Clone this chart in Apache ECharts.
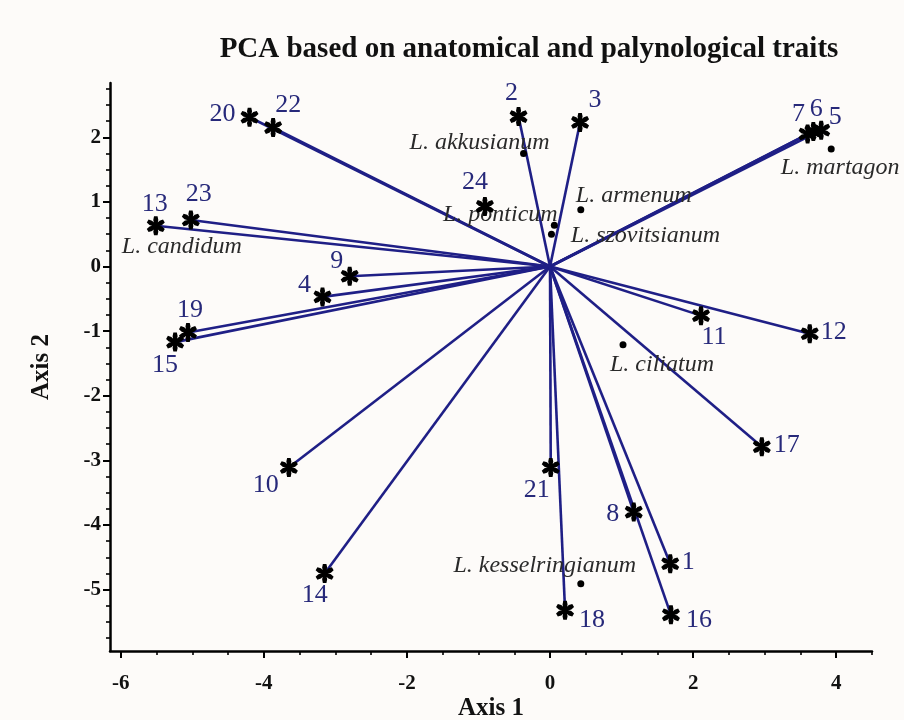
<!DOCTYPE html>
<html><head><meta charset="utf-8">
<script src="https://cdn.jsdelivr.net/npm/echarts@6/dist/echarts.min.js"></script>
<style>html,body{margin:0;padding:0;background:#fdfbf9}#c{width:904px;height:720px}</style>
</head><body><div id="c"></div>
<script>
// ---------- DATA ----------
const pointIds    = ['1','2','3','4','5','6','7','8','9','10','11','12','13','14','15','16','17','18','19','20','21','22','23','24'];
const axis1Scores = [1.68,-0.44,0.42,-3.18,3.79,3.68,3.60,1.17,-2.80,-3.65,2.11,3.63,-5.51,-3.15,-5.24,1.69,2.96,0.21,-5.06,-4.20,0.01,-3.87,-5.02,-0.91];
const axis2Scores = [-4.60,2.32,2.23,-0.47,2.11,2.09,2.05,-3.80,-0.15,-3.11,-0.76,-1.04,0.63,-4.75,-1.17,-5.39,-2.79,-5.32,-1.02,2.31,-3.11,2.15,0.72,0.93];
const vectorIds   = ['1','2','3','4','5','6','7','8','9','10','11','12','13','14','15','16','17','18','19','20','21','22','23'];

const speciesNames  = ['L. akkusianum','L. martagon','L. armenum','L. ponticum','L. szovitsianum','L. ciliatum','L. kesselringianum','L. candidum'];
const speciesAxis1  = [-0.37,3.93,0.43,0.06,0.02,1.02,0.43,-5.51];
const speciesAxis2  = [1.75,1.82,0.88,0.64,0.50,-1.21,-4.91,0.62];

const xTickValues = [-6,-4,-2,0,2,4];
const yTickValues = [-5,-4,-3,-2,-1,0,1,2];

// ---------- STYLE / PLACEMENT ----------
const numLabelOffset = {
  '1':[18,-2],'2':[-7,-23],'3':[15,-22],'4':[-18,-12],'5':[14,-13],'6':[3,-22],'7':[-9,-20],
  '8':[-21,2],'9':[-13,-15],'10':[-23,18],'11':[13,22],'12':[24,-2],'13':[-1,-22],'14':[-10,22],
  '15':[-10,23],'16':[28,5],'17':[25,-2],'18':[27,10],'19':[2,-22],'20':[-27,-3],'21':[-14,23],
  '22':[15,-22],'23':[8,-26],'24':[-10,-24]
};
const speciesLabelOffset = [[-44,-11],[9,19],[53,-14],[-54,-10],[94,1],[39,20],[-36,-18],[26,20]];

const SERIF = '"Liberation Serif","Times New Roman",serif';
const NAVY_LINE = '#1f1f86';
const NAVY_TEXT = '#27297a';

// asterisk symbol path (6 tapered arms)
function asteriskPath(){
  let s = '';
  [90,30,330,270,210,150].forEach(a=>{
    const r = a*Math.PI/180, d=[Math.cos(r),Math.sin(r)], n=[-Math.sin(r),Math.cos(r)];
    const p = (t,w)=>[(t*d[0]+w*n[0]).toFixed(3),(t*d[1]+w*n[1]).toFixed(3)].join(',');
    s += 'M'+p(0,1.3)+' L'+p(6.2,2.7)+' L'+p(10,1.9)+' L'+p(10,-1.9)+' L'+p(6.2,-2.7)+' L'+p(0,-1.3)+' Z ';
  });
  return 'path://'+s;
}

const xMinor=[], yMinor=[];
for(let v=-6; v<=4.5+1e-9; v+=0.5){ if(Math.abs(v-Math.round(v/2)*2)>1e-6) xMinor.push(+v.toFixed(2)); }
for(let v=-5.75; v<=2.8+1e-9; v+=0.25){ if(Math.abs(v-Math.round(v))>1e-6) yMinor.push(+v.toFixed(2)); }

const XMIN=-6.15, XMAX=4.5, YMIN=-5.95, YMAX=2.84;

const vectorData = vectorIds.map(id=>{ const i=pointIds.indexOf(id); return {coords:[[0,0],[axis1Scores[i],axis2Scores[i]]]}; });
const pointData = pointIds.map((id,i)=>({
  value:[axis1Scores[i],axis2Scores[i]], name:id,
  label:{offset:numLabelOffset[id]}
}));
const speciesData = speciesNames.map((nm,i)=>({
  value:[speciesAxis1[i],speciesAxis2[i]], name:nm,
  label:{offset:speciesLabelOffset[i]}
}));

const axisLineStyle = {color:'#000',width:2.5};
const chart = echarts.init(document.getElementById('c'),null,{renderer:'canvas'});
chart.setOption({
  backgroundColor:'#fdfbf9',
  animation:false,
  title:{text:'PCA based on anatomical and palynological traits',left:524,top:30,textAlign:'center',
    textStyle:{fontFamily:SERIF,fontWeight:'bold',fontSize:29,color:'#111'}},
  grid:{left:110,right:32,top:83,bottom:69,containLabel:false,outerBoundsMode:'none'},
  xAxis:[{
    type:'value',min:XMIN,max:XMAX,position:'bottom',
    axisLine:{onZero:false,lineStyle:axisLineStyle},
    axisTick:{customValues:xTickValues,length:7,lineStyle:{color:'#000',width:2}},
    axisLabel:{customValues:xTickValues,fontFamily:SERIF,fontWeight:'bold',fontSize:21,color:'#111',margin:22},
    splitLine:{show:false},
    name:'Axis 1',nameLocation:'middle',nameGap:45,nameMoveOverlap:false,
    nameTextStyle:{fontFamily:SERIF,fontWeight:'bold',fontSize:25,color:'#111'}
  },{
    type:'value',min:XMIN,max:XMAX,position:'bottom',offset:0,
    axisLine:{show:false,onZero:false},axisLabel:{show:false},splitLine:{show:false},
    axisTick:{customValues:xMinor,length:4,lineStyle:{color:'#000',width:1.6}}
  }],
  yAxis:[{
    type:'value',min:YMIN,max:YMAX,position:'left',
    axisLine:{onZero:false,lineStyle:axisLineStyle},
    axisTick:{customValues:yTickValues,length:7,lineStyle:{color:'#000',width:2}},
    axisLabel:{customValues:yTickValues,fontFamily:SERIF,fontWeight:'bold',fontSize:21,color:'#111',margin:9},
    splitLine:{show:false},
    name:'Axis 2',nameLocation:'middle',nameGap:56,nameRotate:90,nameMoveOverlap:false,
    nameTextStyle:{fontFamily:SERIF,fontWeight:'bold',fontSize:25,color:'#111'}
  },{
    type:'value',min:YMIN,max:YMAX,position:'left',offset:0,
    axisLine:{show:false,onZero:false},axisLabel:{show:false},splitLine:{show:false},
    axisTick:{customValues:yMinor,length:4,lineStyle:{color:'#000',width:1.6}}
  }],
  series:[{
    type:'lines',coordinateSystem:'cartesian2d',xAxisIndex:0,yAxisIndex:0,z:2,
    lineStyle:{color:NAVY_LINE,width:2.6,opacity:1},
    data:vectorData
  },{
    type:'scatter',xAxisIndex:0,yAxisIndex:0,z:4,
    symbol:'circle',symbolSize:7,itemStyle:{color:'#000',opacity:1},
    label:{show:true,position:'inside',formatter:p=>p.name,fontFamily:SERIF,fontStyle:'italic',fontSize:24,color:'#2a2a2a',align:'center',verticalAlign:'middle'},
    emphasis:{disabled:true},
    data:speciesData
  },{
    type:'scatter',xAxisIndex:0,yAxisIndex:0,z:5,
    symbol:asteriskPath(),symbolSize:[18,19],itemStyle:{color:'#000',opacity:1},
    label:{show:true,position:'inside',formatter:p=>p.name,fontFamily:SERIF,fontSize:26,color:NAVY_TEXT,align:'center',verticalAlign:'middle'},
    emphasis:{disabled:true},
    data:pointData
  }]
});
</script></body></html>
